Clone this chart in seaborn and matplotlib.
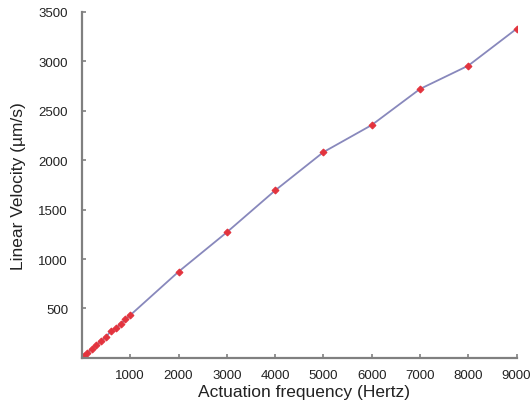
import matplotlib
matplotlib.use("Agg")
import matplotlib.pyplot as plt
import seaborn as sns
import pandas as pd

# actuation frequency (Hz) and measured linear velocity (um/s)
freq_hz = [0, 20, 50, 100, 200, 300, 400, 500, 600, 700, 800, 900, 1000,
           2000, 3000, 4000, 5000, 6000, 7000, 8000, 9000]
velocity_um_s = [0, 10, 22, 45, 90, 130, 170, 215, 270, 300, 340, 390, 432,
                 872, 1271, 1694, 2082, 2356, 2721, 2957, 3330]

x_ticks = [1000, 2000, 3000, 4000, 5000, 6000, 7000, 8000, 9000]
y_ticks = [500, 1000, 1500, 2000, 2500, 3000, 3500]

sns.set_style("ticks")
plt.rcParams["font.family"] = ["Liberation Sans", "DejaVu Sans"]

df = pd.DataFrame({"freq": freq_hz, "vel": velocity_um_s})

fig = plt.figure(figsize=(5.32, 4.06), dpi=100)
ax = fig.add_axes([0.154, 0.116, 0.817, 0.852])

sns.lineplot(data=df, x="freq", y="vel", ax=ax, color="#8888bc", linewidth=1.3,
             marker="D", markersize=3.5, markerfacecolor="#e3333d",
             markeredgecolor="#e3333d", zorder=3)

ax.set_xlim(0, 9000)
ax.set_ylim(0, 3500)
ax.set_xticks(x_ticks)
ax.set_yticks(y_ticks)

grey = "#808080"
for side in ["top", "right"]:
    ax.spines[side].set_visible(False)
for side in ["left", "bottom"]:
    ax.spines[side].set_color(grey)
    ax.spines[side].set_linewidth(1.6)
    ax.spines[side].set_zorder(4)

ax.tick_params(direction="in", length=3, width=1.2, color=grey,
               labelsize=9.5, labelcolor="#222222", pad=10)
ax.tick_params(axis="x", pad=8)

ax.set_xlabel("Actuation frequency (Hertz)", fontsize=12.5, color="#222222", labelpad=1)
ax.set_ylabel("Linear Velocity (\u00b5m/s)", fontsize=12.5, color="#222222", labelpad=9)
ax.xaxis.set_label_coords(0.51, -0.075)

fig.savefig("out.png", dpi=100)
